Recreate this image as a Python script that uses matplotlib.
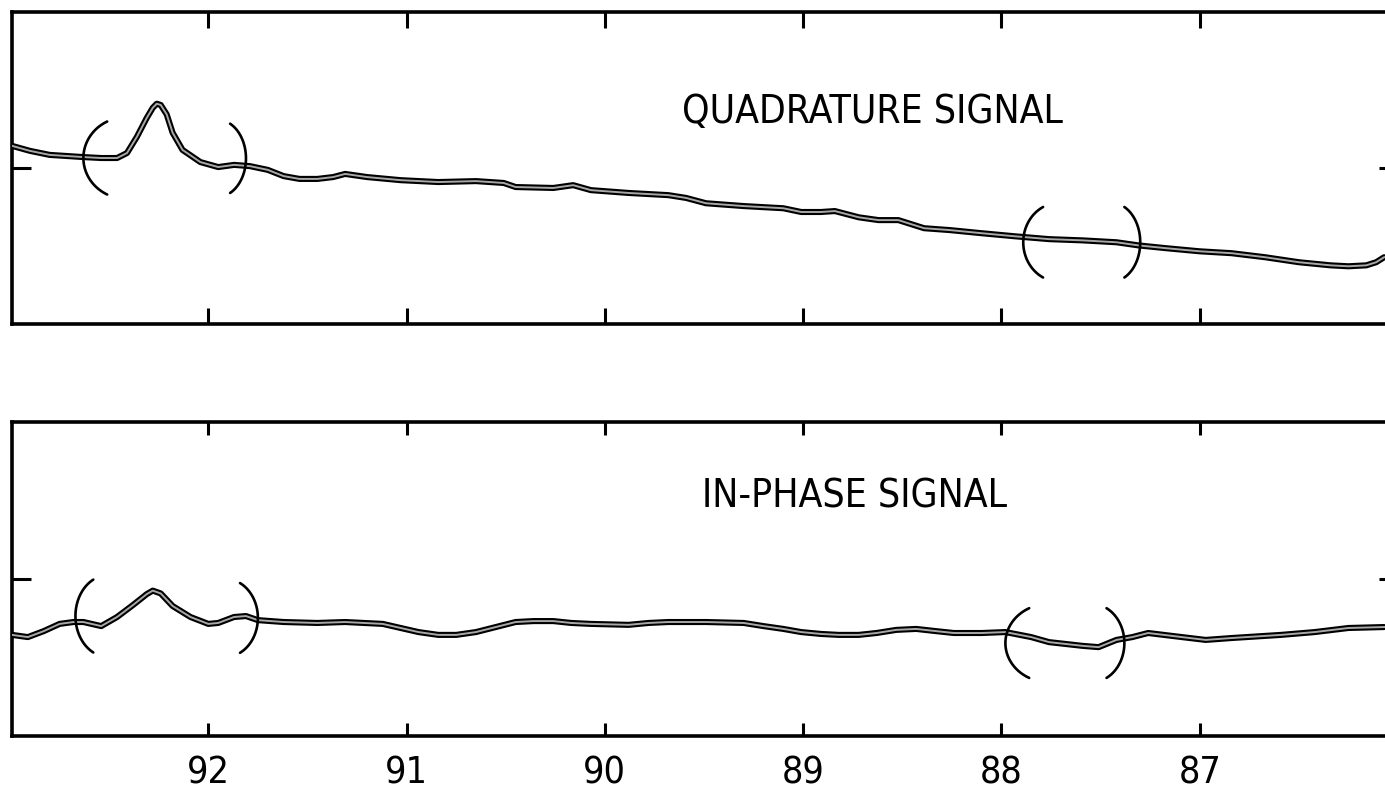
import numpy as np
import matplotlib
matplotlib.use('Agg')
import matplotlib.pyplot as plt
from matplotlib import font_manager as fm

# narrow typeface if one is installed, otherwise the condensed DejaVu face
names = {f.name for f in fm.fontManager.ttflist}
if 'Liberation Sans Narrow' in names:
    FAMILY, STRETCH, TXT_SIZE = 'Liberation Sans Narrow', 'normal', 30
else:
    FAMILY, STRETCH, TXT_SIZE = 'DejaVu Sans', 'condensed', 28
plt.rcParams['font.family'] = [FAMILY, 'DejaVu Sans']
plt.rcParams['font.stretch'] = STRETCH

# frequency axis (reversed), ticks and labels
x_ticks = [92, 91, 90, 89, 88, 87]
x_labels = ['92', '91', '90', '89', '88', '87']

# quadrature signal trace
quad_x = [92.99, 92.90, 92.80, 92.63, 92.54, 92.46, 92.41, 92.36, 92.31, 92.28,
          92.26, 92.24, 92.21, 92.18, 92.13, 92.04, 91.95, 91.87, 91.79, 91.70,
          91.62, 91.54, 91.45, 91.37, 91.31, 91.20, 91.03, 90.84, 90.65, 90.51,
          90.45, 90.26, 90.16, 90.07, 89.88, 89.68, 89.59, 89.49, 89.30, 89.10,
          89.01, 88.91, 88.84, 88.72, 88.62, 88.52, 88.39, 88.26, 88.10, 87.93,
          87.76, 87.59, 87.42, 87.31, 87.17, 87.00, 86.84, 86.67, 86.50, 86.34,
          86.25, 86.16, 86.11, 86.07]
quad_y = [0.71, 0.55, 0.42, 0.35, 0.32, 0.32, 0.48, 1.00, 1.61, 1.93,
          2.06, 2.02, 1.72, 1.13, 0.58, 0.19, 0.03, 0.10, 0.06, -0.06,
          -0.26, -0.35, -0.35, -0.29, -0.19, -0.29, -0.39, -0.45, -0.42, -0.48,
          -0.61, -0.64, -0.55, -0.71, -0.80, -0.87, -0.96, -1.13, -1.22, -1.29,
          -1.41, -1.41, -1.38, -1.58, -1.67, -1.67, -1.93, -1.99, -2.09, -2.19,
          -2.28, -2.32, -2.38, -2.48, -2.57, -2.67, -2.73, -2.86, -3.02, -3.12,
          -3.15, -3.12, -3.02, -2.86]

# in-phase signal trace
inph_x = [92.99, 92.91, 92.83, 92.75, 92.68, 92.63, 92.54, 92.46, 92.38, 92.31,
          92.28, 92.24, 92.18, 92.09, 92.00, 91.95, 91.87, 91.81, 91.75, 91.62,
          91.45, 91.31, 91.12, 91.03, 90.94, 90.84, 90.75, 90.65, 90.55, 90.45,
          90.36, 90.26, 90.17, 90.07, 89.88, 89.78, 89.68, 89.49, 89.30, 89.20,
          89.10, 89.01, 88.91, 88.82, 88.72, 88.63, 88.53, 88.43, 88.33, 88.24,
          88.10, 87.98, 87.85, 87.76, 87.59, 87.51, 87.42, 87.34, 87.26, 87.09,
          86.97, 86.84, 86.59, 86.42, 86.25, 86.07]
inph_y = [-1.78, -1.85, -1.66, -1.43, -1.37, -1.37, -1.50, -1.21, -0.83, -0.48,
          -0.37, -0.46, -0.86, -1.21, -1.43, -1.40, -1.21, -1.18, -1.31, -1.37,
          -1.40, -1.37, -1.43, -1.56, -1.69, -1.78, -1.78, -1.69, -1.53, -1.37,
          -1.34, -1.34, -1.40, -1.43, -1.46, -1.40, -1.37, -1.37, -1.40, -1.50,
          -1.59, -1.69, -1.75, -1.78, -1.78, -1.72, -1.62, -1.59, -1.66, -1.72,
          -1.72, -1.69, -1.85, -2.01, -2.13, -2.17, -1.94, -1.85, -1.72, -1.85,
          -1.94, -1.88, -1.78, -1.69, -1.56, -1.53]

# hand-drawn brackets: (vertex x, tip x, centre y, half height)
quad_brackets = [(92.63, 92.51, 0.32, 1.17), (91.81, 91.89, 0.31, 1.11),
                 (87.89, 87.79, -2.38, 1.13), (87.30, 87.38, -2.38, 1.13)]
inph_brackets = [(92.67, 92.58, -1.18, 1.16), (91.75, 91.84, -1.24, 1.11),
                 (87.98, 87.86, -2.04, 1.11), (87.38, 87.47, -2.04, 1.11)]


def draw_bracket(ax, xv, xt, yc, half):
    a = 1.1
    th = np.linspace(-a, a, 60)
    xs = xv + (xt - xv) * (1 - np.cos(th)) / (1 - np.cos(a))
    ys = yc + half * np.sin(th) / np.sin(a)
    ax.plot(xs, ys, color='black', lw=1.9, solid_capstyle='round', zorder=4)


def setup_panel(ax, tick_len):
    ax.set_xlim(92.99, 86.0)
    ax.set_ylim(-5.0, 5.0)
    for side in ['left', 'top', 'bottom']:
        ax.spines[side].set_linewidth(2.6)
    ax.spines['right'].set_visible(False)
    ax.set_xticks(x_ticks)
    ax.tick_params(axis='x', direction='in', top=True, bottom=True,
                   length=tick_len, width=2.2, labelbottom=False)
    ax.set_yticks([0])
    ax.tick_params(axis='y', direction='in', left=True, right=True,
                   length=14, width=2.2, labelleft=False)


fig = plt.figure(figsize=(13.85, 7.94), dpi=100)
ax1 = fig.add_axes([12 / 1385, 1 - 324 / 794, 1386 / 1385, 312 / 794])
ax2 = fig.add_axes([12 / 1385, 1 - 736 / 794, 1386 / 1385, 314 / 794])

setup_panel(ax1, 11.5)
setup_panel(ax2, 9.4)

for ax, xs, ys in [(ax1, quad_x, quad_y), (ax2, inph_x, inph_y)]:
    ax.plot(xs, ys, color='black', lw=4.4, solid_capstyle='round',
            solid_joinstyle='round', zorder=3)
    ax.plot(xs, ys, color='#a8a8a8', lw=1.4, solid_joinstyle='round', zorder=3)

for b in quad_brackets:
    draw_bracket(ax1, *b)
for b in inph_brackets:
    draw_bracket(ax2, *b)

ax1.text(89.61, 1.45, 'QUADRATURE SIGNAL', fontsize=TXT_SIZE, ha='left', va='baseline')
ax2.text(89.51, 2.29, 'IN-PHASE SIGNAL', fontsize=TXT_SIZE, ha='left', va='baseline')

ax2.tick_params(axis='x', labelbottom=True, labelsize=TXT_SIZE - 1, pad=14)
ax2.set_xticklabels(x_labels)

fig.savefig('out.png', dpi=100)
